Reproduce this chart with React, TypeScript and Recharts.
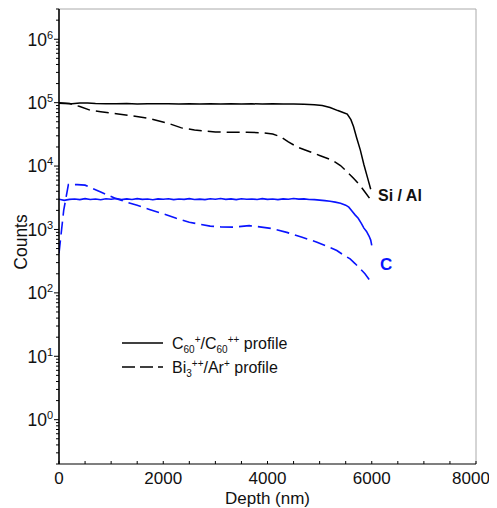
import React from 'react';
import { LineChart, Line, XAxis, YAxis, Legend, ReferenceLine, ReferenceDot } from 'recharts';

const FONT = '"Liberation Sans", Arial, Helvetica, sans-serif';
const BLUE = '#0a14ff';

// C60+/C60++ profile, Si / Al signal
const c60SiDepth = [0, 100, 250, 400, 550, 700, 900, 1100, 1300, 1500, 1700, 1900, 2100, 2300, 2500, 2700, 2900, 3100, 3300, 3500, 3700, 3900, 4100, 4300, 4500, 4700, 4900, 5050, 5200, 5350, 5450, 5530, 5600, 5650, 5710, 5780, 5850, 5920, 5980];
const c60SiCounts = [98000, 97000, 96000, 99000, 98500, 97000, 96500, 96000, 96800, 95500, 96400, 95800, 96500, 95500, 96200, 95600, 96300, 95400, 96000, 95300, 95900, 95200, 95800, 95000, 95400, 94500, 93000, 90000, 84000, 75000, 70000, 66000, 54000, 42000, 28000, 18000, 10500, 6500, 4300];

// Bi3++/Ar+ profile, Si / Al signal
const biSiDepth = [0, 200, 400, 600, 800, 1100, 1400, 1750, 2100, 2350, 2600, 3000, 3300, 3600, 3900, 4100, 4250, 4400, 4570, 4800, 5000, 5250, 5400, 5530, 5650, 5780, 5880, 5970];
const biSiCounts = [100000, 97000, 87000, 76000, 72000, 67000, 62000, 56000, 47000, 40000, 37000, 34500, 34000, 34000, 33500, 32000, 29000, 24000, 20000, 17000, 14700, 12300, 10200, 8100, 6400, 4900, 3800, 3000];

// C60+/C60++ profile, C signal
const c60CDepth = [0, 100, 200, 300, 400, 500, 600, 700, 800, 900, 1000, 1100, 1200, 1300, 1400, 1500, 1600, 1700, 1800, 1900, 2000, 2100, 2200, 2300, 2400, 2500, 2600, 2700, 2800, 2900, 3000, 3100, 3200, 3300, 3400, 3500, 3600, 3700, 3800, 3900, 4000, 4100, 4200, 4300, 4400, 4500, 4600, 4700, 4800, 4900, 5000, 5100, 5200, 5300, 5400, 5500, 5560, 5620, 5680, 5740, 5800, 5850, 5900, 5950, 5980, 6000];
const c60CCounts = [3000, 2880, 2980, 3020, 2960, 3060, 2970, 3030, 2950, 3050, 2990, 3080, 2960, 3040, 2970, 3060, 2980, 3020, 2950, 3040, 2990, 3050, 2960, 3030, 2980, 3060, 2970, 3010, 2960, 3050, 2990, 3070, 2980, 3040, 2960, 3050, 2990, 3030, 2970, 3060, 2980, 3020, 2960, 3040, 2990, 3080, 3010, 3040, 2970, 2960, 2900, 2850, 2780, 2700, 2600, 2420, 2250, 1950, 1700, 1500, 1250, 1050, 930, 780, 680, 560];

// Bi3++/Ar+ profile, C signal
const biCDepth = [0, 90, 180, 350, 500, 650, 800, 1000, 1100, 1300, 1500, 1750, 2000, 2250, 2500, 2650, 2900, 3100, 3350, 3650, 3850, 4100, 4370, 4650, 4950, 5150, 5330, 5450, 5585, 5680, 5780, 5870, 5950];
const biCCounts = [420, 2000, 5100, 5100, 5000, 4400, 3900, 3300, 3050, 2700, 2400, 2050, 1770, 1500, 1300, 1230, 1130, 1100, 1090, 1150, 1100, 1030, 900, 760, 630, 540, 466, 400, 344, 290, 240, 200, 163];

const xTicks = [0, 500, 1000, 1500, 2000, 2500, 3000, 3500, 4000, 4500, 5000, 5500, 6000, 6500, 7000, 7500, 8000];
const xLabeled = [0, 2000, 4000, 6000, 8000];
const yMajor = [1, 10, 100, 1000, 10000, 100000, 1000000];
const yMinorMult = [2, 3, 4, 5, 6, 7, 8, 9];
const yDomain = [0.2, 3000000];

const yTicks: number[] = [];
[0.1, ...yMajor].forEach((d) => {
  if (d >= 1) yTicks.push(d);
  yMinorMult.forEach((m) => {
    const v = d * m;
    if (v >= yDomain[0] - 1e-9 && v <= yDomain[1] + 1e-9) yTicks.push(v);
  });
});
yTicks.sort((a, b) => a - b);

const pts = (d: number[], v: number[]) => d.map((x, i) => ({ depth: x, counts: v[i] }));

const YTick = (props: any) => {
  const { x, y, payload } = props;
  const v = payload.value;
  const lg = Math.log10(v);
  const exp = Math.round(lg);
  const major = Math.abs(lg - exp) < 1e-6;
  return (
    <g>
      <line x1={x - (major ? 5 : 3)} x2={x} y1={y} y2={y} stroke="#000" strokeWidth={1} />
      {major && (
        <text x={x - 6} y={y} dy="0.36em" textAnchor="end" fontSize={17.5} fontFamily={FONT} fill="#111">
          10<tspan dy={-7} fontSize={11}>{exp}</tspan>
        </text>
      )}
    </g>
  );
};

const XTick = (props: any) => {
  const { x, y, payload } = props;
  const v = payload.value;
  const lab = xLabeled.includes(v);
  const shift = v === 8000 ? -5 : 0;
  return (
    <g>
      <line x1={x} x2={x} y1={y} y2={y - 3} stroke="#000" strokeWidth={1} />
      {lab && (
        <text x={x + shift} y={y + 14} dy="0.36em" textAnchor="middle" fontSize={17} fontFamily={FONT} fill="#111">
          {v}
        </text>
      )}
    </g>
  );
};

const LegendContent = () => (
  <svg width={240} height={50} style={{ overflow: 'visible', display: 'block' }}>
    <line x1={0} x2={41} y1={12} y2={12} stroke="#000" strokeWidth={1.6} />
    <text x={50} y={12} dy="0.36em" fontSize={16} fontFamily={FONT} fill="#111">
      C<tspan fontSize={10} dy={4}>60</tspan>
      <tspan fontSize={10} dy={-10}>+</tspan>
      <tspan fontSize={16} dy={6}>/C</tspan>
      <tspan fontSize={10} dy={4}>60</tspan>
      <tspan fontSize={10} dy={-10}>++</tspan>
      <tspan fontSize={16} dy={6}>{'\u00A0profile'}</tspan>
    </text>
    <line x1={0} x2={41} y1={36} y2={36} stroke="#000" strokeWidth={1.6} strokeDasharray="13 5" />
    <text x={50} y={36} dy="0.36em" fontSize={16} fontFamily={FONT} fill="#111">
      Bi<tspan fontSize={10} dy={4}>3</tspan>
      <tspan fontSize={10} dy={-10}>++</tspan>
      <tspan fontSize={16} dy={6}>/Ar</tspan>
      <tspan fontSize={10} dy={-6}>+</tspan>
      <tspan fontSize={16} dy={6}>{'\u00A0profile'}</tspan>
    </text>
  </svg>
);

export default function App() {
  return (
    <LineChart width={489} height={500} margin={{ top: 1, right: 21, bottom: 0, left: 0 }}>
      <XAxis
        dataKey="depth"
        type="number"
        domain={[0, 8000]}
        allowDataOverflow
        ticks={xTicks}
        interval={0}
        tickSize={0}
        tickMargin={0}
        tick={<XTick />}
        height={44}
        stroke="#000"
        strokeWidth={1.2}
        label={{
          content: () => (
            <text x={259.5} y={490} dy="0.36em" textAnchor="middle" fontSize={17} fontFamily={FONT} fill="#111">
              Depth (nm)
            </text>
          ),
        }}
      />
      <YAxis
        dataKey="counts"
        type="number"
        scale="log"
        domain={yDomain}
        allowDataOverflow
        ticks={yTicks}
        interval={0}
        tickSize={0}
        tickMargin={0}
        tick={<YTick />}
        width={51}
        stroke="#000"
        strokeWidth={1.6}
        label={{
          content: () => (
            <text x={13} y={234} dy="0.36em" textAnchor="middle" fontSize={17.5} fontFamily={FONT} fill="#111" transform="rotate(-90 13 234)">
              Counts
            </text>
          ),
        }}
      />
      <ReferenceLine y={3000000} stroke="#aaa" strokeWidth={1} />
      <ReferenceLine x={8000} stroke="#aaa" strokeWidth={1} />
      <Line data={pts(c60SiDepth, c60SiCounts)} dataKey="counts" stroke="#000" strokeWidth={1.5} dot={false} isAnimationActive={false} />
      <Line data={pts(biSiDepth, biSiCounts)} dataKey="counts" stroke="#000" strokeWidth={1.5} strokeDasharray="13 6" dot={false} isAnimationActive={false} />
      <Line data={pts(c60CDepth, c60CCounts)} dataKey="counts" stroke={BLUE} strokeWidth={1.6} dot={false} isAnimationActive={false} />
      <Line data={pts(biCDepth, biCCounts)} dataKey="counts" stroke={BLUE} strokeWidth={1.6} strokeDasharray="13 6" dot={false} isAnimationActive={false} />
      <ReferenceDot
        x={6120}
        y={3500}
        r={0}
        shape={(p: any) => (
          <text x={p.cx} y={p.cy} dy="0.36em" textAnchor="start" fontSize={16} fontWeight="bold" fontFamily={FONT} fill="#111">
            Si / Al
          </text>
        )}
      />
      <ReferenceDot
        x={6160}
        y={290}
        r={0}
        shape={(p: any) => (
          <text x={p.cx} y={p.cy} dy="0.36em" textAnchor="start" fontSize={17} fontWeight="bold" fontFamily={FONT} fill={BLUE}>
            C
          </text>
        )}
      />
      <Legend
        layout="horizontal"
        verticalAlign="middle"
        align="center"
        content={<LegendContent />}
        wrapperStyle={{ left: 114, top: 323, width: 240, height: 50 }}
      />
    </LineChart>
  );
}
